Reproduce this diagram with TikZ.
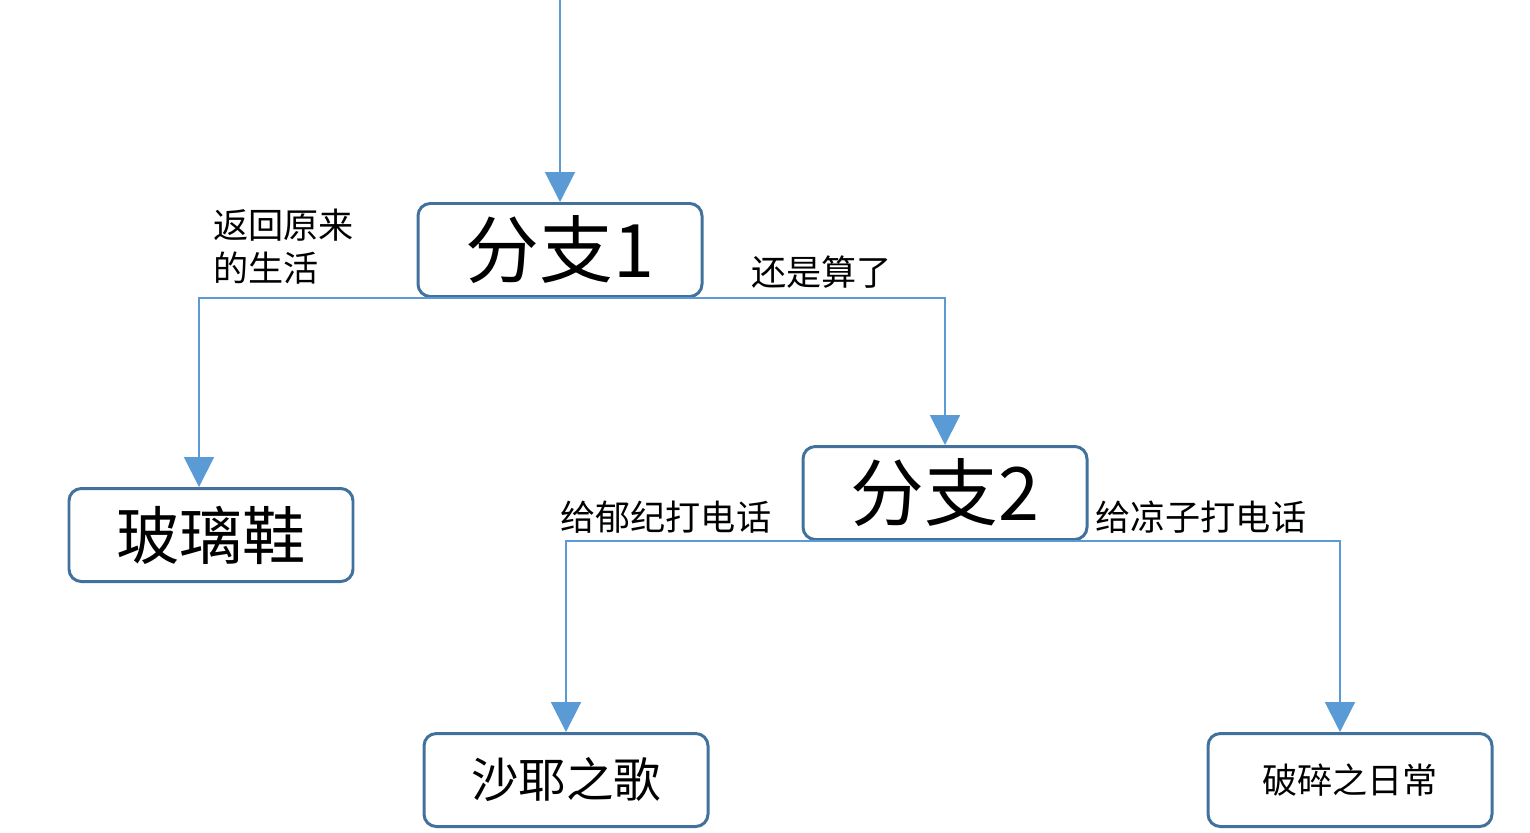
\documentclass[tikz,border=0pt]{standalone}
\usepackage{fontspec}
\setmainfont{Noto Sans CJK SC}
\usetikzlibrary{arrows.meta}
\begin{document}
\begin{tikzpicture}[x=0.02cm,y=-0.02cm,
 box/.style={draw=boxc,line width=1.7pt,rounded corners=7pt,minimum width=284*0.02cm,minimum height=93*0.02cm,inner sep=0pt},
 arr/.style={draw=linec,line width=1.1pt,-{Triangle[width=17pt,length=17pt]}},
 lab/.style={font=\fontsize{20}{24}\selectfont,inner sep=0pt}]
\definecolor{boxc}{HTML}{41719C}
\definecolor{linec}{HTML}{5B9BD5}
\useasboundingbox (0,0) rectangle (1530,832);
\node[box,font=\fontsize{42}{46}\selectfont] (b1) at (560,250) {分支1};
\node[box,font=\fontsize{36}{40}\selectfont] (glass) at (211,535) {玻璃鞋};
\node[box,font=\fontsize{42}{46}\selectfont] (b2) at (945,493) {分支2};
\node[box,font=\fontsize{27}{30}\selectfont] (saya) at (566,780) {沙耶之歌};
\node[box,font=\fontsize{20}{24}\selectfont] (brk) at (1350,780) {破碎之日常};
\coordinate (top) at (560,0);
\draw[arr] (top) -- (b1.north);
\draw[arr] (b1.south) -| ([xshift=-12*0.02cm]glass.north);
\draw[arr] (b1.south) -| (b2.north);
\draw[arr] (b2.south) -| (saya.north);
\draw[arr] (b2.south) -| ([xshift=-10*0.02cm]brk.north);
\node[lab,anchor=north west,align=left] (l1) at (213,209) {返回原来\\的生活};
\node[lab,anchor=west] (l2) at (751,272) {还是算了};
\node[lab,anchor=west] (l3) at (560,517) {给郁纪打电话};
\node[lab,anchor=west] (l4) at (1095,517) {给凉子打电话};
\end{tikzpicture}
\end{document}
